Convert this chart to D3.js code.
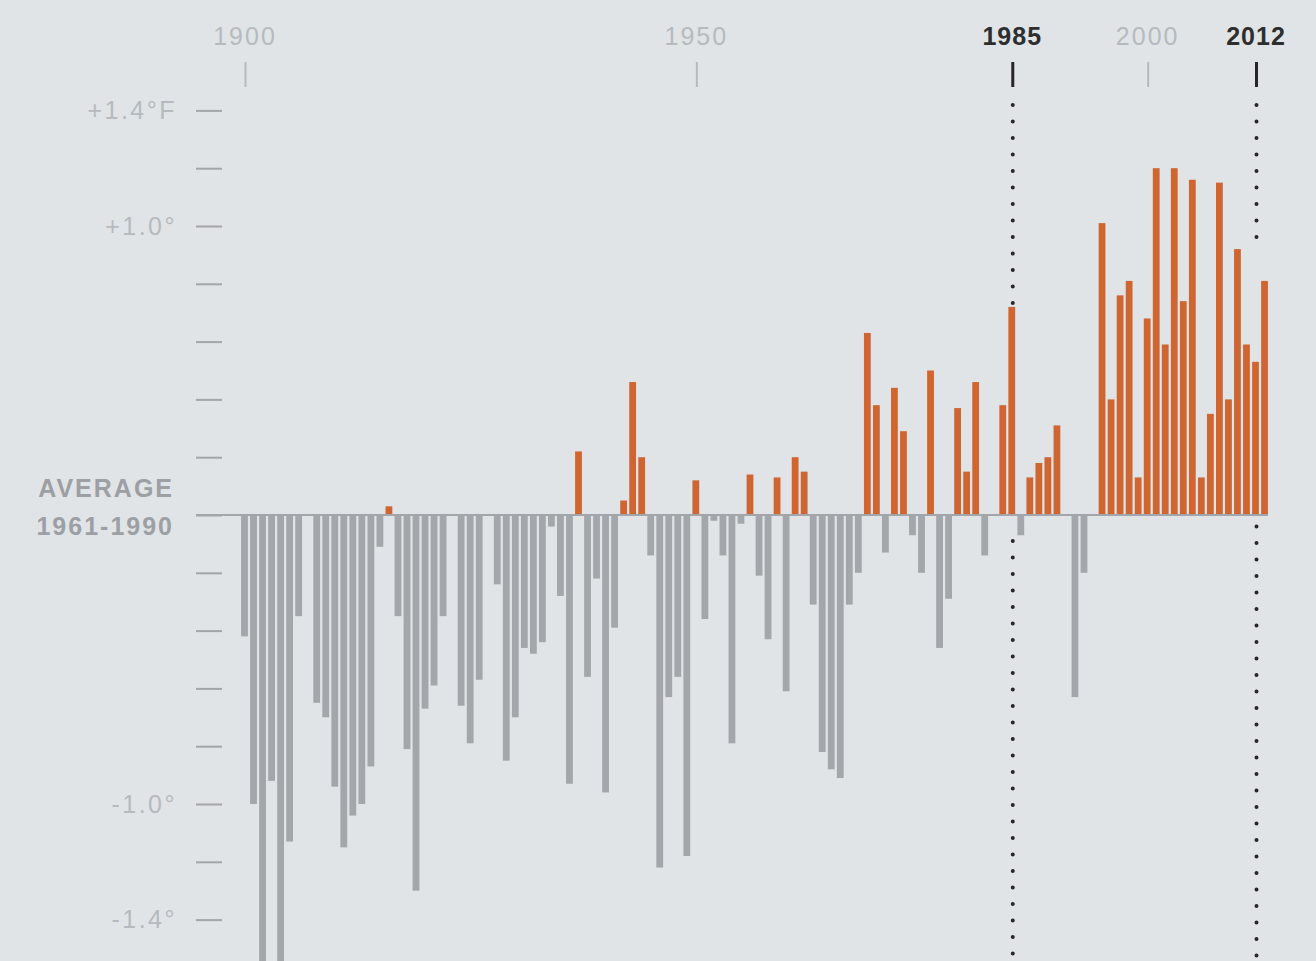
<!DOCTYPE html>
<html>
<head>
<meta charset="utf-8">
<script src="https://cdn.jsdelivr.net/npm/d3@7"></script>
<style>
  html, body { margin: 0; padding: 0; background: #e1e4e7; }
  svg { display: block; }
</style>
</head>
<body>
<svg id="chart" width="1316" height="961"></svg>
<script>
// ---- data ----
const years = d3.range(1900, 2014);
const anomalies = [
  -0.42, -1.00, -1.55, -0.92, -1.55, -1.13, -0.35, 0.00, -0.65, -0.70,   // 1900-1909
  -0.94, -1.15, -1.04, -1.00, -0.87, -0.11, 0.03, -0.35, -0.81, -1.30,   // 1910-1919
  -0.67, -0.59, -0.35, 0.00, -0.66, -0.79, -0.57, 0.00, -0.24, -0.85,    // 1920-1929
  -0.70, -0.46, -0.48, -0.44, -0.04, -0.28, -0.93, 0.22, -0.56, -0.22,   // 1930-1939
  -0.96, -0.39, 0.05, 0.46, 0.20, -0.14, -1.22, -0.63, -0.56, -1.18,     // 1940-1949
  0.12, -0.36, -0.02, -0.14, -0.79, -0.03, 0.14, -0.21, -0.43, 0.13,     // 1950-1959
  -0.61, 0.20, 0.15, -0.31, -0.82, -0.88, -0.91, -0.31, -0.20, 0.63,     // 1960-1969
  0.38, -0.13, 0.44, 0.29, -0.07, -0.20, 0.50, -0.46, -0.29, 0.37,       // 1970-1979
  0.15, 0.46, -0.14, 0.00, 0.38, 0.72, -0.07, 0.13, 0.18, 0.20,          // 1980-1989
  0.31, 0.00, -0.63, -0.20, 0.00, 1.01, 0.40, 0.76, 0.81, 0.13,          // 1990-1999
  0.68, 1.20, 0.59, 1.20, 0.74, 1.16, 0.13, 0.35, 1.15, 0.40,            // 2000-2009
  0.92, 0.59, 0.53, 0.81                                                 // 2010-2013
];
const xTickYears = [1900, 1950, 1985, 2000, 2012];
const highlightYears = [1985, 2012];
const yTickValues = [-1.4, -1.2, -1.0, -0.8, -0.6, -0.4, -0.2, 0, 0.2, 0.4, 0.6, 0.8, 1.0, 1.2, 1.4];
const yTickLabels = { "1.4": "+1.4°F", "1": "+1.0°", "-1": "-1.0°", "-1.4": "-1.4°" };
const baselineLabel = ["AVERAGE", "1961-1990"];

const data = years.map((y, i) => ({ year: y, value: anomalies[i] }));

// ---- layout ----
const svg = d3.select("#chart");
const W = 1316, H = 961;
svg.append("rect").attr("width", W).attr("height", H).attr("fill", "#e1e4e7");

const x = d3.scaleLinear().domain([1900, 2012]).range([244.5, 1255.5]);
const y = d3.scaleLinear().domain([-1.4, 1.4]).range([919.6, 110.4]);
const barW = 6.8;

const colOrange = "#cf6530";
const colGray = "#a3a6aa";
const colLight = "#b6babe";
const colDark = "#262626";
const colTick = "#a2a5a9";

// ---- dotted reference lines (behind bars) ----
const dotted = svg.append("g");
const segs = [
  { year: 1985, top: 105, bottom: y(0.70) },
  { year: 1985, top: y(-0.09), bottom: H + 5 },
  { year: 2012, top: 105, bottom: y(0.96) },
  { year: 2012, top: y(-0.04), bottom: H + 5 }
];
dotted.selectAll("line").data(segs).join("line")
  .attr("x1", d => x(d.year) + 1).attr("x2", d => x(d.year) + 1)
  .attr("y1", d => d.top).attr("y2", d => d.bottom)
  .attr("stroke", colDark).attr("stroke-width", 4)
  .attr("stroke-linecap", "round")
  .attr("stroke-dasharray", "0 16.5");

// ---- bars ----
svg.append("g").selectAll("rect").data(data).join("rect")
  .attr("x", d => x(d.year) - barW / 2)
  .attr("width", barW)
  .attr("y", d => d.value >= 0 ? y(d.value) : y(0))
  .attr("height", d => Math.abs(y(d.value) - y(0)))
  .attr("fill", d => d.value >= 0 ? colOrange : colGray);

// ---- baseline ----
svg.append("line")
  .attr("x1", 196).attr("x2", x(2013) + barW / 2)
  .attr("y1", y(0)).attr("y2", y(0))
  .attr("stroke", colTick).attr("stroke-width", 2);

// ---- y axis ----
const yAxis = d3.axisLeft(y)
  .tickValues(yTickValues)
  .tickSize(26)
  .tickPadding(19)
  .tickFormat(v => yTickLabels[String(+v.toFixed(1))] || "");
const gy = svg.append("g").attr("transform", "translate(222,0)").call(yAxis);
gy.select(".domain").remove();
gy.selectAll(".tick line").attr("stroke", colTick).attr("stroke-width", 2);
gy.selectAll(".tick text")
  .attr("fill", colLight)
  .style("font-family", "'Liberation Sans', Arial, sans-serif")
  .style("font-size", "25px")
  .style("letter-spacing", "2.5px");

// baseline label
const bl = svg.append("text")
  .attr("text-anchor", "end")
  .attr("fill", "#9c9fa3")
  .style("font-family", "'Liberation Sans', Arial, sans-serif")
  .style("font-size", "25px")
  .style("font-weight", "bold")
  .style("letter-spacing", "2px");
bl.selectAll("tspan").data(baselineLabel).join("tspan")
  .attr("x", 174)
  .attr("y", (d, i) => y(0) - 18 + i * 38)
  .text(d => d);

// ---- x axis (top) ----
const xAxis = d3.axisTop(x)
  .tickValues(xTickYears)
  .tickSize(25)
  .tickPadding(17)
  .tickFormat(d3.format("d"));
const gx = svg.append("g").attr("transform", "translate(0,87)").call(xAxis);
gx.select(".domain").remove();
gx.selectAll(".tick line")
  .attr("transform", "translate(0.5,0)")
  .attr("stroke", d => highlightYears.includes(d) ? colDark : colLight)
  .attr("stroke-width", d => highlightYears.includes(d) ? 3 : 2);
gx.selectAll(".tick text")
  .attr("fill", d => highlightYears.includes(d) ? "#2e2e2e" : colLight)
  .style("font-family", "'Liberation Sans', Arial, sans-serif")
  .style("font-size", "25px")
  .style("font-weight", d => highlightYears.includes(d) ? "bold" : "normal")
  .style("letter-spacing", d => highlightYears.includes(d) ? "1px" : "2px");
</script>
</body>
</html>
